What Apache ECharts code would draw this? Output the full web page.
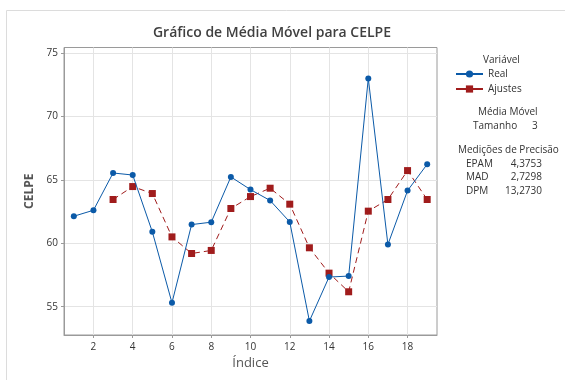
<!DOCTYPE html>
<html>
<head>
<meta charset="utf-8">
<script src="https://cdn.jsdelivr.net/npm/echarts@6/dist/echarts.min.js"></script>
<style>
  html, body { margin: 0; padding: 0; background: #fff; }
  #chart { width: 565px; height: 380px; }
</style>
</head>
<body>
<div id="chart"></div>
<script>
// Índices (período) e valores observados
const realIdx = [1, 2, 3, 4, 5, 6, 7, 8, 9, 10, 11, 12, 13, 14, 15, 16, 17, 18, 19];
const realVals = [62.14, 62.61, 65.55, 65.39, 60.91, 55.31, 61.48, 61.67, 65.24, 64.24,
                  63.38, 61.69, 53.87, 57.34, 57.42, 73.01, 59.91, 64.16, 66.24];

// Ajustes da média móvel de tamanho 3 (começam no índice 3)
const fitIdx = [3, 4, 5, 6, 7, 8, 9, 10, 11, 12, 13, 14, 15, 16, 17, 18, 19];
const fitVals = [63.46, 64.48, 63.93, 60.51, 59.20, 59.44, 62.75, 63.69, 64.35, 63.09,
                 59.65, 57.65, 56.18, 62.54, 63.46, 65.74, 63.46];

// Marcas dos eixos
const xTicks = [2, 4, 6, 8, 10, 12, 14, 16, 18];
const yTicks = [55, 60, 65, 70, 75];

// Medidas de precisão
const accLabels = ['EPAM', 'MAD', 'DPM'];
const accValues = ['4,3753', '2,7298', '13,2730'];

const FONT = '"Open Sans", "Noto Sans", sans-serif';
const BLUE = '#0b5aa8';
const RED = '#a01c1c';

const chart = echarts.init(document.getElementById('chart'), null, { renderer: 'canvas' });

const toPairs = (xs, ys) => xs.map((x, i) => [x, ys[i]]);

const txt = (left, top, text, extra) => ({
  type: 'text', left, top,
  style: Object.assign({ text, font: '10px ' + FONT, fill: '#333' }, extra || {})
});

const sideText = [
  txt(483, 55, 'Variável'),
  txt(478, 107, 'Média Móvel'),
  txt(473, 121, 'Tamanho'),
  txt(532, 121, '3'),
  txt(458, 145, 'Medições de Precisão')
];
accLabels.forEach((lab, i) => {
  sideText.push(txt(466, 159 + i * 13.5, lab));
  sideText.push({ type: 'text', x: 542, y: 159 + i * 13.5,
    style: { text: accValues[i], font: '10px ' + FONT, fill: '#333', align: 'right', verticalAlign: 'top' } });
});

chart.setOption({
  animation: false,
  backgroundColor: '#fff',
  title: {
    text: 'Gráfico de Média Móvel para CELPE',
    left: 267, top: 21, textAlign: 'center',
    textStyle: { fontFamily: FONT, fontSize: 14, fontWeight: 600, color: '#404040' }
  },
  graphic: [
    { type: 'rect', shape: { x: 6.5, y: 10.5, width: 620, height: 420 }, style: { fill: 'none', stroke: '#dcdcdc', lineWidth: 1 }, silent: true, z: -10 }
  ].concat(sideText),
  legend: {
    orient: 'vertical', left: 455, top: 69, itemGap: 5, padding: 0,
    itemWidth: 27, itemHeight: 9,
    textStyle: { fontFamily: FONT, fontSize: 10, color: '#333' },
    lineStyle: { type: 'solid' },
    data: ['Real', 'Ajustes']
  },
  grid: { left: 64, top: 47.5, right: 128, bottom: 45, show: true, borderColor: '#9a9a9a', borderWidth: 1 },
  xAxis: {
    type: 'value', min: 0.5, max: 19.5,
    name: 'Índice', nameLocation: 'middle', nameGap: 19,
    nameTextStyle: { fontFamily: FONT, fontSize: 13, color: '#555' },
    axisLine: { show: true, lineStyle: { color: '#9a9a9a' } },
    axisTick: { show: true, length: 3, customValues: xTicks, lineStyle: { color: '#9a9a9a' } },
    axisLabel: { customValues: xTicks, margin: 7, fontFamily: FONT, fontSize: 10, color: '#333' },
    splitLine: { show: true, lineStyle: { color: '#e4e4e4' } }
  },
  yAxis: {
    type: 'value', min: 52.77, max: 75.45,
    name: 'CELPE', nameLocation: 'middle', nameGap: 25,
    nameTextStyle: { fontFamily: FONT, fontSize: 12, fontWeight: 'bold', color: '#555' },
    axisLine: { show: true, lineStyle: { color: '#9a9a9a' } },
    axisTick: { show: true, length: 3, customValues: yTicks, lineStyle: { color: '#9a9a9a' } },
    axisLabel: { customValues: yTicks, margin: 6, fontFamily: FONT, fontSize: 10, color: '#333' },
    splitLine: { show: true, lineStyle: { color: '#e4e4e4' } }
  },
  series: [
    {
      name: 'Real', type: 'line', data: toPairs(realIdx, realVals),
      symbol: 'circle', symbolSize: 6,
      itemStyle: { color: BLUE },
      lineStyle: { color: BLUE, width: 1 },
      z: 3
    },
    {
      name: 'Ajustes', type: 'line', data: toPairs(fitIdx, fitVals),
      symbol: 'rect', symbolSize: 7,
      itemStyle: { color: RED },
      lineStyle: { color: RED, width: 1, type: [6, 4] },
      z: 2
    }
  ]
});
</script>
</body>
</html>
